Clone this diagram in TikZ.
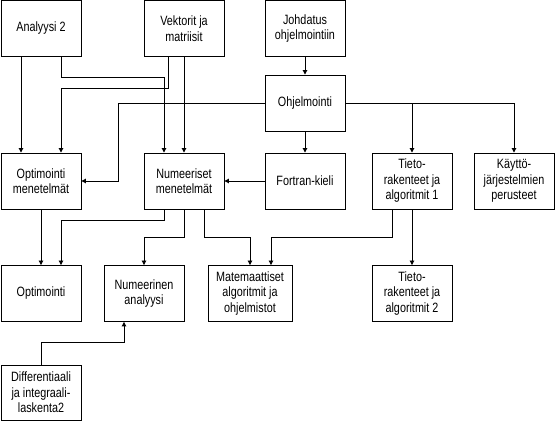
\documentclass[tikz,border=0pt]{standalone}
\usepackage{fontspec}
\setmainfont{Liberation Sans}[FakeStretch=0.8]
\usepackage{tikz}
\usetikzlibrary{arrows.meta}

\begin{document}
\begin{tikzpicture}[
    x=1pt, y=-1pt,
    font=\fontsize{13.5}{15.5}\selectfont,
    box/.style={draw, line width=0.9pt, rectangle, minimum width=80pt,
                minimum height=56pt, align=center, inner sep=0pt},
    link/.style={->, line width=0.9pt},
    >={Triangle[width=4.5pt,length=4.5pt]},
  ]
    \useasboundingbox (0,0) rectangle (555,422);

    % Top row
    \node[box] (ana2) at (41,28.5) {Analyysi 2};
    \node[box] (vekt) at (184,28.5) {Vektorit ja\\matriisit};
    \node[box] (johd) at (305,28.5) {Johdatus\\ohjelmointiin};
    \node[box] (ohj) at (305,103) {Ohjelmointi};

    % Middle row
    \node[box] (optm) at (41,181) {Optimointi\\menetelmät};
    \node[box] (num) at (184,181) {Numeeriset\\menetelmät};
    \node[box] (fort) at (305,181) {Fortran-kieli};
    \node[box] (tieto1) at (412,181) {Tieto-\\rakenteet ja\\algoritmit 1};
    \node[box] (kaytto) at (514,181) {Käyttö-\\järjestelmien\\perusteet};

    % Bottom row
    \node[box] (opt) at (41,293.5) {Optimointi};
    \node[box] (numan) at (144,293.5) {Numeerinen\\analyysi};
    \node[box, minimum width=84pt] (mat) at (250,293.5) {Matemaattiset\\algoritmit ja\\ohjelmistot};
    \node[box] (tieto2) at (412,293.5) {Tieto-\\rakenteet ja\\algoritmit 2};
    \node[box, minimum height=55pt] (diff) at (41,392.5) {Differentiaali\\ja integraali-\\laskenta2};

    % Prerequisites
    \draw[link] ([xshift=-20pt]ana2.south) -- ([xshift=-20pt]optm.north);
    \draw[link] ([xshift=20pt]ana2.south) -- ++(0,21) -| ([xshift=-20pt]num.north);
    \draw[link] ([xshift=-16pt]vekt.south) -- ++(0,32) -| ([xshift=20pt]optm.north);
    \draw[link] (vekt.south) -- (num.north);
    \draw[link] (johd) -- (ohj);
    \draw[link] (ohj.west) -- ++(-146,0) |- (optm.east);
    \draw[link] (ohj) -- (fort);
    \draw[link] (ohj.east) -| (tieto1.north);
    \draw[link] (ohj.east) -| (kaytto.north);
    \draw[link] (fort) -- (num);
    \draw[link] (optm) -- (opt);
    \draw[link] ([xshift=-20pt]num.south) -- ++(0,11) -| ([xshift=20pt]opt.north);
    \draw[link] (num.south) -- ++(0,28) -| (numan.north);
    \draw[link] ([xshift=20pt]num.south) -- ++(0,28) -| (mat.north);
    \draw[link] ([xshift=-20pt]tieto1.south) -- ++(0,28) -| ([xshift=21pt]mat.north);
    \draw[link] (tieto1) -- (tieto2);
    \draw[link] (diff.north) -- ++(0,-22) -| ([xshift=-20pt]numan.south);
  \end{tikzpicture}
\end{document}
